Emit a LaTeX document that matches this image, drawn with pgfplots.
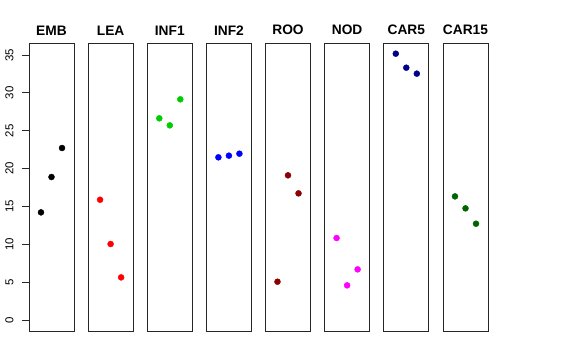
\documentclass[border=0pt]{standalone}
\usepackage{pgfplots}
\pgfplotsset{compat=1.18}
\usepackage{fontspec}
\setmainfont{Liberation Sans}
\definecolor{rgreen}{HTML}{00CD00}
\definecolor{rdarkred}{HTML}{8B0000}
\definecolor{rnavy}{HTML}{00008B}
\definecolor{rdarkgreen}{HTML}{006400}
\definecolor{rmagenta}{HTML}{FF00FF}
\definecolor{rred}{HTML}{FF0000}
\definecolor{rblue}{HTML}{0000FF}
\pgfplotsset{
  panel/.style={
    scale only axis, width=45bp, height=288bp, anchor=south west,
    xmin=-0.14, xmax=4.14, ymin=-1.45, ymax=36.59,
    xtick=\empty, ytick=\empty,
    axis line style={line width=0.8bp, black!85},
    title style={font=\fontsize{13.8}{16}\selectfont\bfseries, at={(0.5,1)}, anchor=south, yshift=-1.6bp},
    /pgf/number format/assume math mode=true,
  },
  pts/.style={only marks, mark=*, mark size=3bp, mark options={draw=#1, fill=#1}, color=#1},
}
\begin{document}
\begin{tikzpicture}
\path[use as bounding box] (0,0) rectangle (576bp,360bp);
\begin{axis}[panel, at={(29bp,29bp)}, title={EMB},
  ytick={0,5,...,35}, ytick pos=left, tick align=outside, major tick length=7bp,
  ytick style={line width=0.8bp, black!85},
  yticklabel style={xshift=-5bp, rotate=90, anchor=south, font=\fontsize{11.5}{13}\selectfont}]
\addplot[pts=black] coordinates {(1,14.22) (2,18.89) (3,22.72)};
\end{axis}
\begin{axis}[panel, at={(88.1bp,29bp)}, title={LEA}]
\addplot[pts=rred] coordinates {(1,15.89) (2,10.04) (3,5.63)};
\end{axis}
\begin{axis}[panel, at={(147.3bp,29bp)}, title={INF1}]
\addplot[pts=rgreen] coordinates {(1,26.64) (2,25.71) (3,29.15)};
\end{axis}
\begin{axis}[panel, at={(206.4bp,29bp)}, title={INF2}]
\addplot[pts=rblue] coordinates {(1,21.49) (2,21.71) (3,21.97)};
\end{axis}
\begin{axis}[panel, at={(265.5bp,29bp)}, title={ROO}]
\addplot[pts=rdarkred] coordinates {(1,5.06) (2,19.11) (3,16.73)};
\end{axis}
\begin{axis}[panel, at={(324.6bp,29bp)}, title={NOD}]
\addplot[pts=rmagenta] coordinates {(1,10.83) (2,4.58) (3,6.69)};
\end{axis}
\begin{axis}[panel, at={(383.8bp,29bp)}, title={CAR5}]
\addplot[pts=rnavy] coordinates {(1,35.18) (2,33.33) (3,32.54)};
\end{axis}
\begin{axis}[panel, at={(443bp,29bp)}, title={CAR15}]
\addplot[pts=rdarkgreen] coordinates {(1,16.33) (2,14.75) (3,12.72)};
\end{axis}
\end{tikzpicture}
\end{document}
